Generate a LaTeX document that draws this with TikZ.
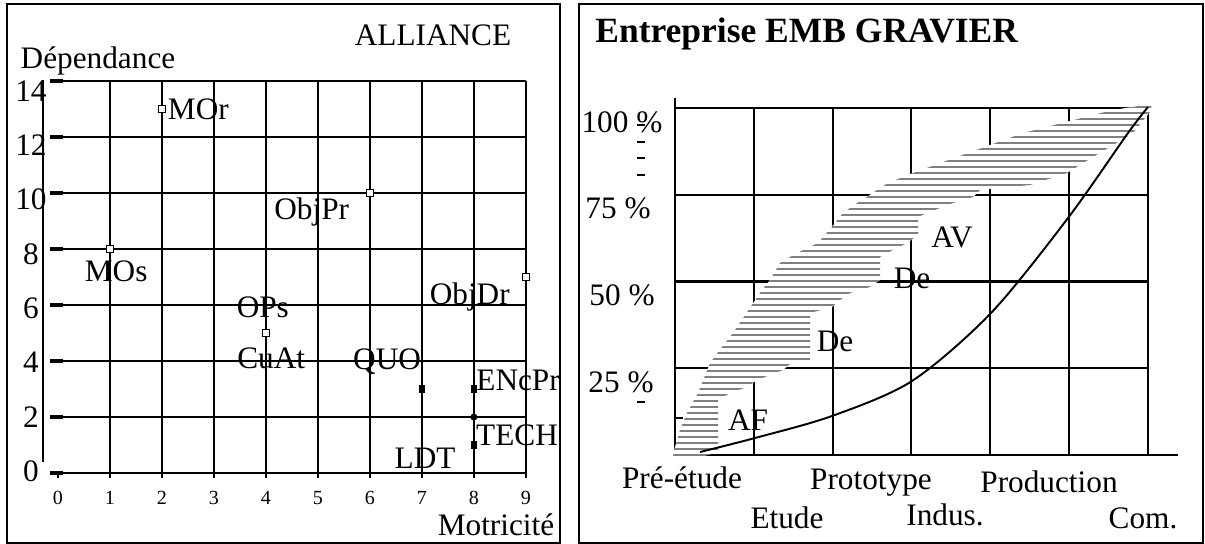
\documentclass[tikz,border=0pt]{standalone}
\usepackage{fontspec}
\setmainfont{Liberation Serif}

\tikzset{
  frame/.style={draw, line width=1.2pt},
  gridline/.style={line width=1.2pt},
  lbl/.style={font=\fontsize{17.8}{21}\selectfont, inner sep=0pt},
  ticklbl/.style={font=\fontsize{11.4}{13}\selectfont, inner sep=0pt},
  openmark/.style={draw, fill=white, line width=0.9pt, minimum size=0.14cm, inner sep=0pt},
  fullmark/.style={fill=black, minimum width=0.12cm, minimum height=0.17cm, inner sep=0pt},
  dotmark/.style={circle, fill=black, minimum size=0.14cm, inner sep=0pt},
  hatch/.style={black!50, line width=1.1pt},
}

\begin{document}
\begin{tikzpicture}[x=0.02cm, y=-0.02cm]
\useasboundingbox (0,0) rectangle (1205,544);

% Alliance panel
\draw[frame] (7,4) rectangle (560,543);
\node[lbl] (alliance) at (433,35) {ALLIANCE};
\node[lbl] (dep) at (98,61) {Dépendance};
\node[lbl] (mot) at (496,525) {Motricité};
\draw[line width=1.5pt] (43,80) -- (43,462);

\begin{scope}[shift={(58,473)}, x=1.04cm, y=0.56cm]
  % grid
  \foreach \v in {0,2,...,14} {
    \draw[gridline] (-0.15,\v) -- (9,\v);
    \draw[line width=2pt] (-0.15,\v) -- (0.1,\v);
    \node[lbl] (dv\v) at (-0.52,{0.97*\v+0.07}) {\v};
  }
  \foreach \u in {1,...,9}
    \draw[gridline] (\u,0) -- (\u,14);
  \foreach \u in {0,...,9} {
    \draw[gridline] (\u,0) -- (\u,-0.18);
    \node[ticklbl] (mv\u) at (\u,-0.9) {\u};
  }

  % variables
  \node[openmark] (pmor) at (2,13) {};
  \node[openmark] (pmos) at (1,8) {};
  \node[openmark] (pobjpr) at (6,10) {};
  \node[openmark] (pobjdr) at (9,7) {};
  \node[openmark] (pops) at (4,5) {};
  \node[fullmark] (pquo) at (7,3) {};
  \node[fullmark] (pencpr) at (8,3) {};
  \node[dotmark] (pmid) at (8,2) {};
  \node[fullmark] (ptech) at (8,1) {};

  \node[lbl] (mor) at (2.7,13.0) {MOr};
  \node[lbl] (mos) at (1.12,7.21) {MOs};
  \node[lbl] (objpr) at (4.88,9.32) {ObjPr};
  \node[lbl] (objdr) at (7.92,6.29) {ObjDr};
  \node[lbl] (ops) at (3.94,5.93) {OPs};
  \node[lbl] (cuat) at (4.10,4.11) {CuAt};
  \node[lbl] (quo) at (6.33,3.96) {QUO};
  \node[lbl] (encpr) at (8.85,3.32) {ENcPr};
  \node[lbl] (tech) at (8.83,1.36) {TECH};
  \node[lbl] (ldt) at (7.06,0.54) {LDT};
\end{scope}

% EMB GRAVIER panel
\draw[frame] (579,4) rectangle (1203,543);
\node[font=\bfseries\fontsize{20.2}{24}\selectfont, inner sep=0pt, anchor=base west] (titre) at (595,43) {Entreprise EMB GRAVIER};

% grid
\foreach \i in {1,...,6}
  \draw[gridline] ({675+78.8*\i},108) -- ({675+78.8*\i},455);
\foreach \j in {0,...,3}
  \draw[gridline] (675,{108+86.75*\j}) -- (1148,{108+86.75*\j});
\draw[gridline] (675,455) -- (1178,455);
\draw[gridline] (675,98) -- (675,455);

% hatched band
\def\band{(673,456) -- (675,447) -- (680,430) -- (687,413) -- (698,393) -- (710,363)
  -- (722,347) -- (733,333) -- (760,293) -- (770,280) -- (780,263) -- (790,257)
  -- (803,250) -- (818,243) -- (832,227) -- (843,213) -- (857,203) -- (867,197)
  -- (877,190) -- (888,183) -- (913,173) -- (957,157) -- (1023,133) -- (1113,110)
  -- (1152,104) -- (1150,112) -- (1133,133) -- (1093,157) -- (1067,173) -- (1030,185)
  -- (980,190) -- (973,197) -- (953,203) -- (927,213) -- (918,217) -- (918,235)
  -- (907,243) -- (893,250) -- (880,257) -- (880,280) -- (870,287) -- (850,293)
  -- (840,300) -- (832,307) -- (810,313) -- (810,360) -- (790,364) -- (783,370)
  -- (757,380) -- (747,387) -- (730,393) -- (718,400) -- (718,452) -- (703,456) -- cycle}
\fill[white] \band;
\begin{scope}
  \clip \band;
  \foreach \y in {107,113,...,455}
    \draw[hatch] (660,\y) -- (1160,\y);
\end{scope}

% curve
\draw[line width=1.1pt] plot[smooth] coordinates {(700,452) (755,438) (832,416)
  (912,381) (991,313) (1068,218) (1128,133) (1148,107)};

% small dashes
\foreach \y in {125,142,158,175,402}
  \draw[line width=1.2pt] (637,\y) -- (645,\y);
\draw[line width=1.2pt] (675,418) -- (683,418);

% labels
\node[lbl] (p100) at (622,122) {100 \%};
\node[lbl] (p75) at (618,208) {75 \%};
\node[lbl] (p50) at (622,295) {50 \%};
\node[lbl] (p25) at (621,382) {25 \%};
\node[lbl] (av) at (952,237) {AV};
\node[lbl] (de1) at (912,278) {De};
\node[lbl] (de2) at (835,341) {De};
\node[lbl] (af) at (748,420) {AF};
\node[lbl] (preetude) at (682,478) {Pré-étude};
\node[lbl] (etude) at (787,518) {Etude};
\node[lbl] (proto) at (871,483) {Prototype};
\node[lbl] (indus) at (945,515) {Indus.};
\node[lbl] (prod) at (1049,482) {Production};
\node[lbl] (com) at (1143,518) {Com.};
\end{tikzpicture}
\end{document}
